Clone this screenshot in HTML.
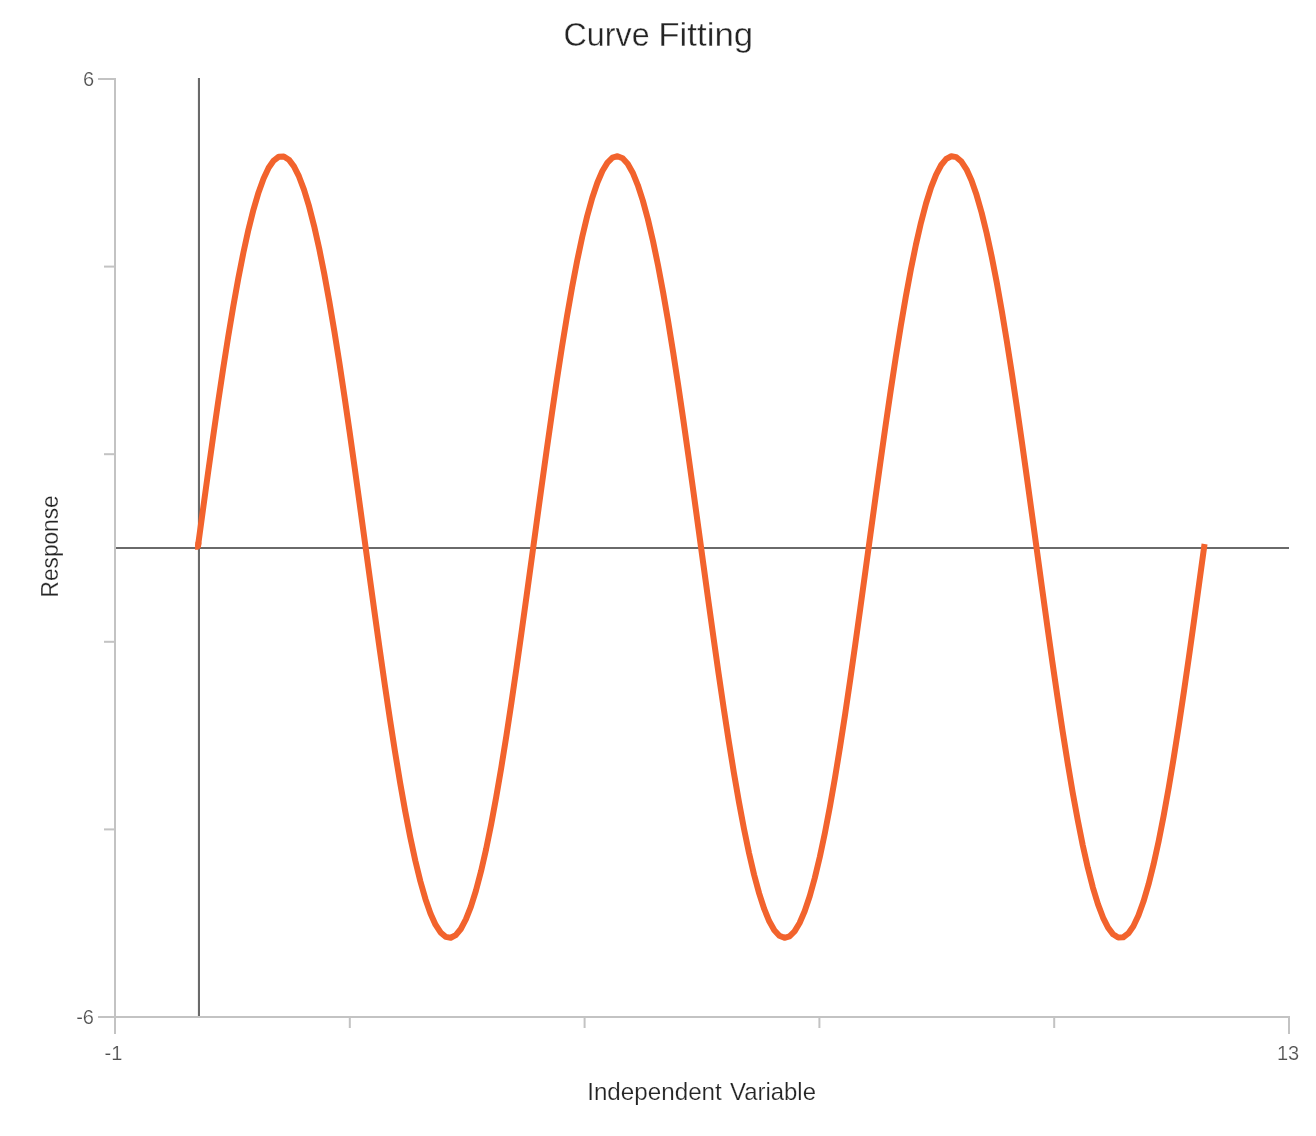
<!DOCTYPE html>
<html lang="en">
<head>
<meta charset="utf-8">
<title>Curve Fitting</title>
<style>
html,body{margin:0;padding:0;background:#ffffff;}
body{width:1316px;height:1136px;overflow:hidden;font-family:"Liberation Sans",sans-serif;}
svg text{white-space:pre;}
</style>
</head>
<body>
<svg width="1316" height="1136" viewBox="0 0 1316 1136" style="display:block">
<rect x="0" y="0" width="1316" height="1136" fill="#ffffff"/>
<g fill="#c3c3c3" shape-rendering="crispEdges">
<rect x="114" y="78" width="2" height="940"/>
<rect x="114" y="1016" width="1176" height="2"/>
<rect x="98" y="78.00" width="16" height="2"/>
<rect x="104" y="265.60" width="10" height="2" shape-rendering="auto"/>
<rect x="104" y="453.20" width="10" height="2" shape-rendering="auto"/>
<rect x="104" y="640.80" width="10" height="2" shape-rendering="auto"/>
<rect x="104" y="828.40" width="10" height="2" shape-rendering="auto"/>
<rect x="98" y="1016.00" width="16" height="2"/>
<rect x="114.00" y="1018" width="2" height="16"/>
<rect x="348.80" y="1018" width="2" height="10" shape-rendering="auto"/>
<rect x="583.60" y="1018" width="2" height="10" shape-rendering="auto"/>
<rect x="818.40" y="1018" width="2" height="10" shape-rendering="auto"/>
<rect x="1053.20" y="1018" width="2" height="10" shape-rendering="auto"/>
<rect x="1288.00" y="1018" width="2" height="16"/>
</g>
<g fill="#6a6a6a" shape-rendering="crispEdges">
<rect x="116" y="547" width="1173" height="2"/>
<rect x="198" y="78" width="2" height="938"/>
<rect x="197" y="78" width="1" height="938" fill="#f1f1f1"/>
</g>
<path d="M197.86,547.00 L202.91,510.04 L207.97,473.40 L213.03,437.43 L218.08,402.44 L223.14,368.74 L228.20,336.64 L233.25,306.43 L238.31,278.38 L243.37,252.73 L248.42,229.72 L253.48,209.56 L258.54,192.42 L263.59,178.46 L268.65,167.81 L273.71,160.55 L278.76,156.76 L283.82,156.47 L288.88,159.68 L293.93,166.36 L298.99,176.46 L304.05,189.87 L309.10,206.49 L314.16,226.16 L319.22,248.71 L324.27,273.93 L329.33,301.60 L334.39,331.47 L339.45,363.27 L344.50,396.72 L349.56,431.52 L354.62,467.35 L359.67,503.90 L364.73,540.83 L369.79,577.82 L374.84,614.53 L379.90,650.64 L384.96,685.81 L390.01,719.75 L395.07,752.13 L400.13,782.67 L405.18,811.11 L410.24,837.17 L415.30,860.63 L420.35,881.28 L425.41,898.94 L430.47,913.44 L435.52,924.65 L440.58,932.48 L445.64,936.85 L450.69,937.72 L455.75,935.10 L460.81,928.99 L465.86,919.46 L470.92,906.59 L475.98,890.50 L481.03,871.32 L486.09,849.24 L491.15,824.45 L496.20,797.17 L501.26,767.65 L506.32,736.15 L511.37,702.95 L516.43,668.36 L521.49,632.68 L526.54,596.23 L531.60,559.34 L536.66,522.34 L541.71,485.56 L546.77,449.33 L551.83,413.97 L556.88,379.81 L561.94,347.15 L567.00,316.28 L572.05,287.47 L577.11,261.00 L582.17,237.09 L587.22,215.95 L592.28,197.79 L597.34,182.76 L602.39,170.99 L607.45,162.59 L612.51,157.64 L617.56,156.18 L622.62,158.22 L627.68,163.75 L632.73,172.72 L637.79,185.04 L642.85,200.60 L647.90,219.28 L652.96,240.89 L658.02,265.24 L663.07,292.12 L668.13,321.29 L673.19,352.47 L678.24,385.41 L683.30,419.79 L688.36,455.31 L693.41,491.66 L698.47,528.50 L703.53,565.50 L708.59,602.34 L713.64,638.69 L718.70,674.21 L723.76,708.59 L728.81,741.53 L733.87,772.71 L738.93,801.88 L743.98,828.76 L749.04,853.11 L754.10,874.72 L759.15,893.40 L764.21,908.96 L769.27,921.28 L774.32,930.25 L779.38,935.78 L784.44,937.82 L789.49,936.36 L794.55,931.41 L799.61,923.01 L804.66,911.24 L809.72,896.21 L814.78,878.05 L819.83,856.91 L824.89,833.00 L829.95,806.53 L835.00,777.72 L840.06,746.85 L845.12,714.19 L850.17,680.03 L855.23,644.67 L860.29,608.44 L865.34,571.66 L870.40,534.66 L875.46,497.77 L880.51,461.32 L885.57,425.64 L890.63,391.05 L895.68,357.85 L900.74,326.35 L905.80,296.83 L910.85,269.55 L915.91,244.76 L920.97,222.68 L926.02,203.50 L931.08,187.41 L936.14,174.54 L941.19,165.01 L946.25,158.90 L951.31,156.28 L956.36,157.15 L961.42,161.52 L966.48,169.35 L971.53,180.56 L976.59,195.06 L981.65,212.72 L986.70,233.37 L991.76,256.83 L996.82,282.89 L1001.87,311.33 L1006.93,341.87 L1011.99,374.25 L1017.04,408.19 L1022.10,443.36 L1027.16,479.47 L1032.21,516.18 L1037.27,553.17 L1042.33,590.10 L1047.38,626.65 L1052.44,662.48 L1057.50,697.28 L1062.55,730.73 L1067.61,762.53 L1072.67,792.40 L1077.73,820.07 L1082.78,845.29 L1087.84,867.84 L1092.90,887.51 L1097.95,904.13 L1103.01,917.54 L1108.07,927.64 L1113.12,934.32 L1118.18,937.53 L1123.24,937.24 L1128.29,933.45 L1133.35,926.19 L1138.41,915.54 L1143.46,901.58 L1148.52,884.44 L1153.58,864.28 L1158.63,841.27 L1163.69,815.62 L1168.75,787.57 L1173.80,757.36 L1178.86,725.26 L1183.92,691.56 L1188.97,656.57 L1194.03,620.60 L1199.09,583.96 L1204.14,547.00 L1204.55,544.03" fill="none" stroke="#f2632d" stroke-width="6" stroke-linejoin="round" stroke-linecap="butt"/>
<polygon points="195.56,541.64 194.95,549.80 198.20,549.80 200.83,547.41 201.51,542.45" fill="#f2632d"/>
<text id="title" y="45.90" font-family="&quot;Liberation Sans&quot;, sans-serif" font-size="32.8" fill="#242424" stroke="#ffffff" stroke-width="0.35"><tspan x="563.60" textLength="86.00" lengthAdjust="spacingAndGlyphs">Curve</tspan> <tspan x="658.20" textLength="95.00" lengthAdjust="spacingAndGlyphs">Fitting</tspan></text>
<text id="xl" y="1099.70" font-family="&quot;Liberation Sans&quot;, sans-serif" font-size="24.4" fill="#242424" stroke="#ffffff" stroke-width="0.22"><tspan x="587.20" textLength="134.60" lengthAdjust="spacingAndGlyphs">Independent</tspan> <tspan x="730.00" textLength="86.00" lengthAdjust="spacingAndGlyphs">Variable</tspan></text>
<text id="yl" transform="translate(58.4,546.4) rotate(-90)" x="0" y="0" font-family="&quot;Liberation Sans&quot;, sans-serif" font-size="24.4" fill="#242424" stroke="#ffffff" stroke-width="0.22" text-anchor="middle" textLength="102" lengthAdjust="spacingAndGlyphs">Response</text>
<g font-family="&quot;Liberation Sans&quot;, sans-serif" font-size="20" fill="#505050" stroke="#ffffff" stroke-width="0.2">
<text id="t6" x="94" y="86" text-anchor="end">6</text>
<text id="tm6" x="94" y="1024" text-anchor="end">-6</text>
<text id="tm1" x="113.5" y="1060" text-anchor="middle">-1</text>
<text id="t13" x="1288" y="1060" text-anchor="middle">13</text>
</g>
</svg>
</body>
</html>
